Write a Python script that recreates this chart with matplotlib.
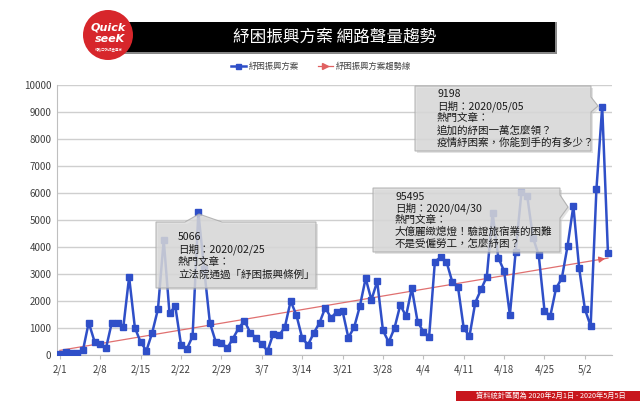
import numpy as np
import matplotlib.pyplot as plt
from matplotlib.patches import Polygon, Rectangle, Ellipse
from matplotlib.lines import Line2D

plt.rcParams['font.family'] = ['Noto Sans CJK TC', 'DejaVu Sans']

# daily volume, 2/1 .. 5/6
values = [
    40, 100, 90, 75, 175, 1200, 500, 410, 260, 1200, 1200, 1040, 2890, 1010,   # 2/1-2/14
    475, 160, 825, 1700, 4260, 1540, 1810, 375, 225, 690, 5280, 3200, 1190,    # 2/15-2/27
    500, 460, 250, 610, 1000, 1260, 825, 625, 390, 160, 790, 725, 1040, 2000,  # 2/28-3/12
    1475, 625, 375, 810, 1190, 1750, 1375, 1600, 1625, 640, 1025, 1810, 2840,  # 3/13-3/25
    2040, 2725, 910, 475, 1000, 1850, 1440, 2470, 1235, 865, 680, 3460, 3620,  # 3/26-4/7
    3460, 2720, 2530, 990, 700, 1940, 2430, 2900, 5270, 3600, 3110, 1480,      # 4/8-4/19
    3830, 6020, 5900, 4350, 3700, 1640, 1440, 2470, 2840, 4040, 5520, 3230,    # 4/20-5/1
    1700, 1070, 6140, 9198, 3765,                                              # 5/2-5/6
]
tick_labels = ['2/1', '2/8', '2/15', '2/22', '2/29', '3/7', '3/14', '3/21',
               '3/28', '4/4', '4/11', '4/18', '4/25', '5/2']
series_name = '紓困振興方案'
trend_name = '紓困振興方案趨勢線'
title = '紓困振興方案 網路聲量趨勢'
footer = '資料統計區間為 2020年2月1日 - 2020年5月5日'

callouts = [
    ['5066', '日期：2020/02/25', '熱門文章：', '立法院通過「紓困振興條例」'],
    ['95495', '日期：2020/04/30', '熱門文章：', '大億麗緻熄燈！驗證旅宿業的困難', '不是受僱勞工，怎麼紓困？'],
    ['9198', '日期：2020/05/05', '熱門文章：', '追加的紓困一萬怎麼領？', '疫情紓困案，你能到手的有多少？'],
]

W, H = 640, 401
fig = plt.figure(figsize=(W / 100, H / 100), dpi=100)
fig.patch.set_facecolor('white')

def fx(px):
    return px / W

def fy(py):
    return 1 - py / H

ax = fig.add_axes([fx(57), fy(355), fx(612) - fx(57), fy(85) - fy(355)])
x = np.arange(len(values))
blue = '#2F4FC8'
ax.plot(x, values, color=blue, lw=1.8, marker='s', ms=3.8, mfc=blue, mec=blue, zorder=3)

# linear trend line with arrow head
k, b = np.polyfit(x, values, 1)
trend = k * x + b
ax.plot(x, trend, color='#E07070', lw=0.9, zorder=2)
ax.annotate('', xy=(x[-1], trend[-1]), xytext=(x[-3], trend[-3]),
            arrowprops=dict(arrowstyle='-|>', color='#E06060', lw=0.9, mutation_scale=9), zorder=2)

ax.set_xlim(-0.5, 95.7)
ax.set_ylim(0, 10000)
ax.set_yticks(range(0, 10001, 1000))
ax.set_xticks(range(0, 92, 7))
ax.set_xticklabels(tick_labels)
ax.tick_params(axis='both', labelsize=7, colors='#404040', length=0, pad=4)
ax.tick_params(axis='x', length=3, color='#BFBFBF', direction='out')
ax.grid(axis='y', color='#CFCFCF', lw=1)
ax.set_axisbelow(True)
for s in ['top', 'right']:
    ax.spines[s].set_visible(False)
for s in ['left', 'bottom']:
    ax.spines[s].set_color('#BFBFBF')

# callout boxes (figure pixel coords)
box_shapes = [
    [(156, 288), (156, 222), (185, 222), (199, 214), (222, 222), (316, 222), (316, 288)],
    [(373, 188), (560, 188), (560, 195), (568, 207), (560, 218), (560, 252), (373, 252)],
    [(415, 86), (591, 86), (591, 97), (598, 106), (591, 112), (591, 151), (415, 151)],
]
text_pos = [(178, 237, 12.4), (395, 197, 11.6), (437, 94, 12.2)]
for shape, (tx, ty, step), lines in zip(box_shapes, text_pos, callouts):
    pts = [(fx(a), fy(c)) for a, c in shape]
    shadow = [(fx(a + 2), fy(c + 2)) for a, c in shape]
    fig.patches.append(Polygon(shadow, closed=True, transform=fig.transFigure,
                               facecolor='#BBBBBB', edgecolor='none', alpha=0.4, zorder=4))
    fig.patches.append(Polygon(pts, closed=True, transform=fig.transFigure,
                               facecolor='#D9D9D9', edgecolor='#A6A6A6', lw=0.8, alpha=0.78, zorder=5))
    for i, line in enumerate(lines):
        fig.text(fx(tx), fy(ty + i * step), line, fontsize=7.6, color='#1A1A1A',
                 va='center', ha='left', zorder=6)

# title bar and logo
fig.patches.append(Rectangle((fx(102), fy(54)), fx(557) - fx(102), fy(22) - fy(54),
                             transform=fig.transFigure, facecolor='#888888', edgecolor='none', zorder=1))
fig.patches.append(Rectangle((fx(100), fy(52)), fx(555) - fx(100), fy(22) - fy(52),
                             transform=fig.transFigure, facecolor='black', edgecolor='none', zorder=2))
fig.text(fx(335), fy(37), title, color='white', fontsize=12, ha='center', va='center', zorder=3)
fig.patches.append(Ellipse((fx(108), fy(35)), fx(50), 50 / H, transform=fig.transFigure,
                           facecolor='#D7262B', edgecolor='none', zorder=4))
fig.text(fx(108), fy(28), 'Quick', color='white', fontsize=8, fontweight='bold', style='italic',
         ha='center', va='center', family='DejaVu Sans', zorder=5)
fig.text(fx(110), fy(39), 'seeK', color='white', fontsize=8, fontweight='bold', style='italic',
         ha='center', va='center', family='DejaVu Sans', zorder=5)
fig.text(fx(109), fy(49), '網路口碑調查專家', color='white', fontsize=2.5, ha='center', va='center', zorder=5)

# legend
handles = [Line2D([], [], color=blue, lw=1.8, marker='s', ms=3.6),
           Line2D([], [], color='#E06060', lw=0.9, marker='>', ms=4, markevery=[1])]
fig.legend(handles, [series_name, trend_name], loc='center', bbox_to_anchor=(fx(321), fy(66)),
           ncol=2, frameon=False, fontsize=6, handlelength=1.8, handletextpad=0.4,
           columnspacing=2.2, labelcolor='#404040')

# footer
fig.patches.append(Rectangle((fx(456), 0), 1 - fx(456), 10 / H, transform=fig.transFigure,
                             facecolor='#C8161D', edgecolor='none', zorder=2))
fig.text(fx(551), 5 / H, footer, color='white', fontsize=5.2, ha='center', va='center', zorder=3)

fig.savefig('out.png', dpi=100)
